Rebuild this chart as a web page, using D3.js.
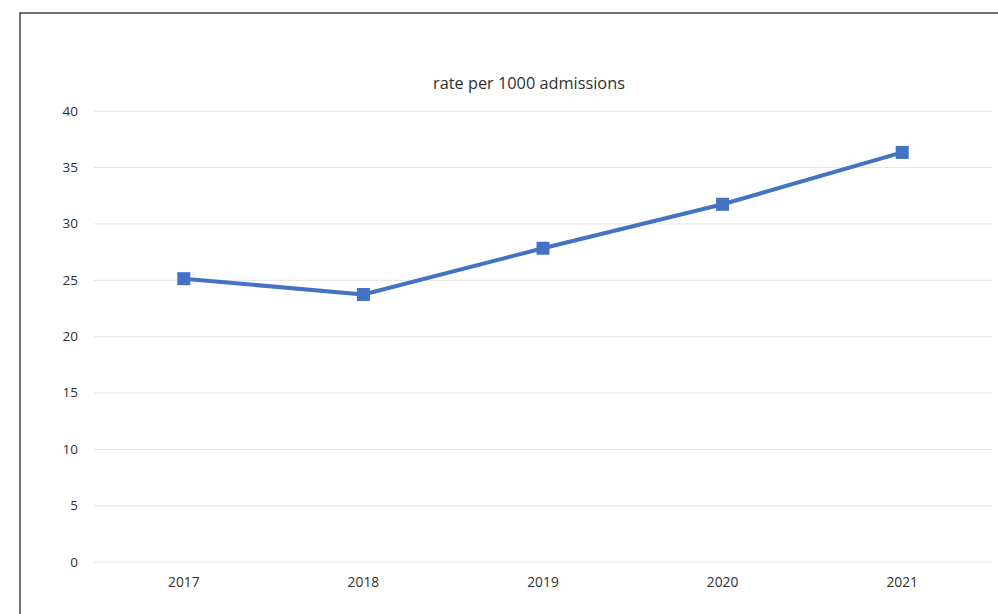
<!DOCTYPE html>
<html><head><meta charset="utf-8">
<script src="https://cdn.jsdelivr.net/npm/d3@7"></script>
<style>html,body{margin:0;padding:0;background:#fff;overflow:hidden}</style>
</head><body>
<svg id="c" width="998" height="614"></svg>
<script>
const years = ["2017","2018","2019","2020","2021"];
const rates = [25.1, 23.7, 27.8, 31.7, 36.3];
const yTicks = [0,5,10,15,20,25,30,35,40];
const title = "rate per 1000 admissions";

(function(){
const svg = d3.select("#c");
const font = "'Open Sans', Lato, sans-serif";
const tc = "#303030";
svg.append("rect").attr("x",20).attr("y",13).attr("width",1000).attr("height",640)
  .attr("fill","#fff").attr("stroke","#404040").attr("stroke-width",1.5);

const pL=94, pR=992, pT=110.7, pB=561.7;
const x = d3.scaleBand().domain(years).range([pL,pR]);
const y = d3.scaleLinear().domain([0,40]).range([pB,pT]);

const ya = svg.append("g").attr("transform",`translate(${pL},0)`)
  .call(d3.axisLeft(y).tickValues(yTicks).tickSize(-(pR-pL)).tickPadding(16));
ya.select(".domain").remove();
ya.selectAll("line").attr("stroke","#e4e4e4").attr("stroke-width",1);
ya.selectAll("text").attr("fill",tc).style("font-family",font).style("font-size","13.5px");

const xa = svg.append("g").attr("transform",`translate(0,${pB})`)
  .call(d3.axisBottom(x).tickSize(0).tickPadding(16));
xa.select(".domain").remove();
xa.selectAll("text").attr("fill",tc).style("font-family",font).style("font-size","13.8px");

const t = svg.append("text").attr("x",529).attr("y",89).attr("text-anchor","middle")
  .attr("fill",tc).style("font-family",font).style("font-size","15px").text(title);
const w = t.node().getComputedTextLength();
t.style("font-size", (15*192/w).toFixed(2)+"px");

const cx = d => x(d) + x.bandwidth()/2;
const line = d3.line().x((d,i)=>cx(years[i])).y(d=>y(d));
svg.append("path").datum(rates).attr("d",line).attr("fill","none")
  .attr("stroke","#4472C4").attr("stroke-width",4).attr("stroke-linejoin","round");
svg.selectAll("rect.m").data(rates).enter().append("rect").attr("class","m")
  .attr("x",(d,i)=>cx(years[i])-6.5).attr("y",d=>y(d)-6.5)
  .attr("width",13).attr("height",13).attr("fill","#4472C4");
})();
</script>
</body></html>
